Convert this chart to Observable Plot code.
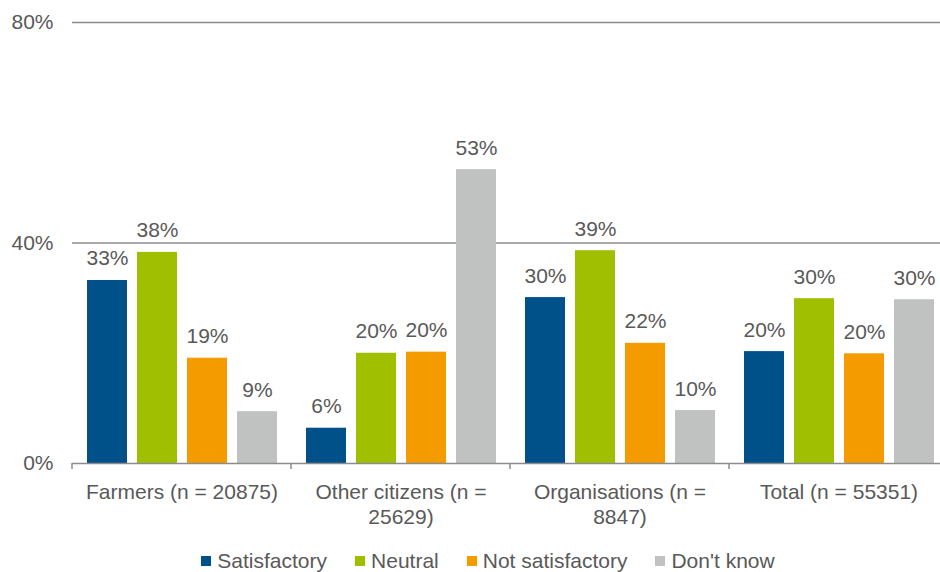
<!DOCTYPE html>
<html><head><meta charset="utf-8">
<script src="https://cdn.jsdelivr.net/npm/d3@7"></script>
<script src="https://cdn.jsdelivr.net/npm/@observablehq/plot@0.6"></script>
<style>
html,body{margin:0;padding:0;background:#fff;overflow:hidden;}
#chart{width:940px;height:572px;overflow:hidden;position:relative;}
#chart > svg{max-width:none !important;}
#legend{display:flex;justify-content:center;padding-left:64px;padding-top:5px;}
.lg-swatches{font-family:'Liberation Sans',Arial,sans-serif;font-size:21px;color:#595959;margin:0;}
.lg-swatches-wrap{min-height:32px;}
.lg-swatch{margin-right:28px;}
.lg-swatch > svg{margin-right:6px;}
</style></head><body><div id="chart"></div>
<script>
const groups = ["Farmers (n = 20875)", "Other citizens (n = 25629)", "Organisations (n = 8847)", "Total (n = 55351)"];
const groupLabels = ["Farmers (n = 20875)", "Other citizens (n =\n25629)", "Organisations (n =\n8847)", "Total (n = 55351)"];
const series = ["Satisfactory", "Neutral", "Not satisfactory", "Don't know"];
const colors = ["#00508a", "#a0bf00", "#f49b00", "#bfc2c1"];
const satisfactory = [33.2, 6.4, 30.1, 20.3];
const neutral = [38.3, 20.0, 38.6, 29.9];
const notSatisfactory = [19.1, 20.2, 21.8, 19.9];
const dontKnow = [9.4, 53.3, 9.6, 29.7];
const yTicks = [0, 40, 80];

const seriesValues = [satisfactory, neutral, notSatisfactory, dontKnow];
const data = groups.flatMap((g, i) => series.map((s, j) => ({group: g, series: s, value: seriesValues[j][i]})));

// small tick below the baseline at the left edge of each category band
const boundaryTicks = Plot.ruleY([0], {
  render: (index, scales, values, dimensions, context) => {
    let x0;
    const sx = scales.scales && scales.scales.x;
    if (sx && sx.range) x0 = Math.min(...sx.range);
    else if (scales.x && scales.x.range) x0 = Math.min(...scales.x.range());
    else x0 = dimensions.marginLeft;
    const y0 = scales.y(0);
    const g = d3.create("svg:g");
    g.append("line").attr("x1", x0).attr("x2", x0).attr("y1", y0).attr("y2", y0 + 6)
      .attr("stroke", "#8c8c8c").attr("stroke-width", 1.5);
    return g.node();
  }
});

const plot = Plot.plot({
  width: 948, height: 540,
  marginLeft: 72, marginRight: 0, marginTop: 22, marginBottom: 77,
  style: {fontFamily: "'Liberation Sans', Arial, sans-serif", fontSize: "21px", color: "#595959", background: "#fff", overflow: "visible", maxWidth: "none"},
  fx: {domain: groups, padding: 0, label: null},
  x: {domain: series, paddingInner: 0.2, paddingOuter: 0.29, axis: null},
  y: {domain: [0, 80], range: [463, 22], label: null},
  color: {domain: series, range: colors},
  marks: [
    Plot.ruleY([40, 80], {stroke: "#8c8c8c", strokeWidth: 1.5}),
    Plot.barY(data, {fx: "group", x: "series", y: "value", fill: "series"}),
    Plot.ruleY([0], {stroke: "#8c8c8c", strokeWidth: 1.5}),
    boundaryTicks,
    Plot.text(data, {fx: "group", x: "series", y: "value", text: d => Math.round(d.value) + "%", lineAnchor: "bottom", dy: -15, fill: "#595959"}),
    Plot.axisY({ticks: yTicks, tickSize: 0, tickPadding: 19, tickFormat: d => d + "%", label: null}),
    Plot.axisFx({anchor: "bottom", tickSize: 0, tickPadding: 18, tickFormat: g => groupLabels[groups.indexOf(g)], lineHeight: 1.17, label: null})
  ]
});

const chart = document.getElementById("chart");
chart.appendChild(plot);
const legendDiv = document.createElement("div");
legendDiv.id = "legend";
legendDiv.appendChild(plot.legend("color", {className: "lg", swatchSize: 10}));
chart.appendChild(legendDiv);
</script></body></html>
